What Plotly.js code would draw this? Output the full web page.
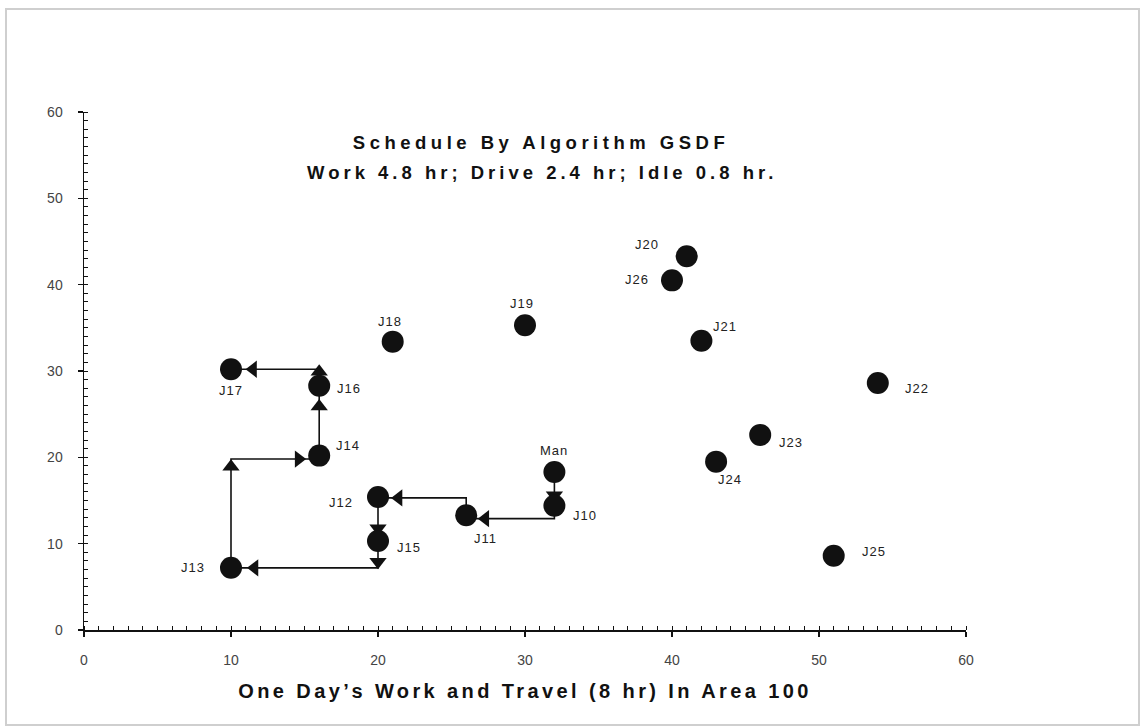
<!DOCTYPE html>
<html>
<head>
<meta charset="utf-8">
<script src="https://cdn.plot.ly/plotly-3.0.1.min.js"></script>
<style>
  body { margin: 0; background: #fff; }
  #wrap { position: relative; width: 1142px; height: 727px; }
  #plot { position: absolute; left: 0; top: 0; width: 1142px; height: 727px; }
  #frame { position: absolute; left: 5px; top: 8px; width: 1131px; height: 714px;
           border: 2px solid #cfcfcf; pointer-events: none; z-index: 10; }
</style>
</head>
<body>
<div id="wrap"><div id="plot"></div><div id="frame"></div></div>
<script>
// ---- data ----
const jobNames = ['Man','J10','J11','J12','J15','J13','J14','J16','J17','J18','J19','J20','J26','J21','J22','J23','J24','J25'];
const jobX = [32, 32, 26, 20, 20, 10, 16, 16, 10, 21, 30, 41, 40, 42, 54, 46, 43, 51];
const jobY = [18.3, 14.4, 13.3, 15.4, 10.3, 7.2, 20.2, 28.3, 30.2, 33.4, 35.3, 43.3, 40.5, 33.5, 28.6, 22.6, 19.5, 8.6];

// travel route (orthogonal path of the schedule)
const routeX = [32, 32, 26, 26, 20, 20, 10, 10, 16, 16, 10];
const routeY = [18.3, 12.9, 12.9, 15.3, 15.3, 7.2, 7.2, 19.8, 19.8, 30.2, 30.2];

// arrow heads along the route
const arrowX = [32, 27.3, 21.4, 20, 20, 11.6, 10, 14.6, 16, 16, 11.5];
const arrowY = [15.6, 12.9, 15.3, 11.8, 7.9, 7.2, 18.9, 19.8, 25.9, 29.9, 30.2];
const arrowDir = ['down','left','left','down','down','left','up','right','up','up','left'];

const xTicks = [0, 10, 20, 30, 40, 50, 60];
const yTicks = [0, 10, 20, 30, 40, 50, 60];

const titleLine1 = 'Schedule By Algorithm GSDF';
const titleLine2 = 'Work 4.8 hr; Drive 2.4 hr; Idle 0.8 hr.';
const xTitle = 'One Day\u2019s Work and Travel (8 hr) In Area 100';

// ---- label placement (pixel offsets, style only) ----
const labelDX = [0, 31, 19, -37, 31, -38, 29, 30, 0, -3, -3, -40, -35, 24, 39, 31, 14, 40];
const labelDY = [-22, 10, 23, 5, 6, 0, -10, 3, 21, -20, -22, -12, -1, -14, 5, 8, 18, -4];

const FONT = 'Liberation Sans, Arial, Helvetica, sans-serif';

const traces = [
  {
    x: routeX, y: routeY, type: 'scatter', mode: 'lines',
    line: { color: '#111', width: 1.6 }, hoverinfo: 'skip', showlegend: false
  },
  {
    x: arrowX, y: arrowY, type: 'scatter', mode: 'markers',
    marker: { symbol: arrowDir.map(d => 'triangle-' + d), size: 15, color: '#111' },
    hoverinfo: 'skip', showlegend: false
  },
  {
    x: jobX, y: jobY, type: 'scatter', mode: 'markers', text: jobNames,
    marker: { symbol: 'circle', size: 22, color: '#111' },
    showlegend: false
  }
];

const annotations = jobNames.map((n, i) => ({
  x: jobX[i], y: jobY[i], xref: 'x', yref: 'y',
  text: '<span style="letter-spacing:1px">' + n + '</span>',
  showarrow: false, xshift: labelDX[i], yshift: -labelDY[i],
  font: { family: FONT, size: 13, color: '#222' }
}));

annotations.push({
  x: 0.5, xref: 'paper', y: (630 - 172) / 518, yref: 'paper',
  text: '<span style="letter-spacing:4px">' + titleLine2 + '</span>',
  showarrow: false, xanchor: 'center', yanchor: 'middle', xshift: 17,
  font: { family: FONT, size: 18.5, color: '#111', weight: 'bold' }
});

const layout = {
  width: 1142, height: 727,
  margin: { l: 84, r: 176, t: 112, b: 97 },
  paper_bgcolor: '#fff', plot_bgcolor: '#fff',
  title: {
    text: '<span style="letter-spacing:4.5px">' + titleLine1 + '</span>',
    x: 0.5 + 16 / 882, xref: 'paper', xanchor: 'center',
    y: 1 - 143 / 727, yref: 'container', yanchor: 'middle',
    font: { family: FONT, size: 18.5, color: '#111', weight: 'bold' }
  },
  xaxis: {
    range: [0, 60], tickvals: xTicks, ticktext: xTicks.map(String),
    showgrid: false, zeroline: false,
    showline: true, linecolor: '#111', linewidth: 1.5,
    ticks: 'outside', ticklen: 5, tickwidth: 1.5, tickcolor: '#111',
    minor: { ticks: 'inside', dtick: 1, ticklen: 4, tickwidth: 1, tickcolor: '#111', showgrid: false },
    tickfont: { family: FONT, size: 14, color: '#444' },
    ticklabelstandoff: 12,
    title: {
      text: '<span style="letter-spacing:3.4px">' + xTitle + '</span>',
      standoff: 16,
      font: { family: FONT, size: 20, color: '#111', weight: 'bold' }
    },
    fixedrange: true
  },
  yaxis: {
    range: [0, 60], tickvals: yTicks, ticktext: yTicks.map(String),
    showgrid: false, zeroline: false,
    showline: true, linecolor: '#111', linewidth: 1.5,
    ticks: 'outside', ticklen: 5, tickwidth: 1.5, tickcolor: '#111',
    minor: { ticks: 'inside', dtick: 1, ticklen: 4, tickwidth: 1, tickcolor: '#111', showgrid: false },
    tickfont: { family: FONT, size: 14, color: '#444' },
    ticklabelstandoff: 12,
    fixedrange: true
  },
  annotations: annotations,
  showlegend: false
};

Plotly.newPlot('plot', traces, layout, { displayModeBar: false, staticPlot: true });
</script>
</body>
</html>
